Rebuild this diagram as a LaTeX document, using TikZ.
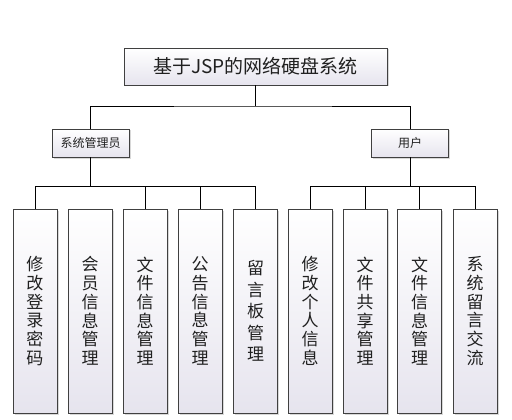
\documentclass[tikz,border=0pt]{standalone}
\usepackage{fontspec}
\newfontfamily\cjk{Noto Sans CJK SC}
\usetikzlibrary{shadows,calc}
\definecolor{boxline}{HTML}{404040}
\definecolor{boxbot}{HTML}{E6E4EE}
\definecolor{txt}{HTML}{202020}
\tikzset{
  box/.style={draw=boxline, line width=0.9pt, top color=white, bottom color=boxbot,
    drop shadow={shadow xshift=1.5pt, shadow yshift=-1.5pt, fill=black!25, opacity=0.6},
    inner sep=0pt, text=txt, align=center},
  titlebox/.style={box, minimum width=263pt, minimum height=37pt, font=\cjk\fontsize{19}{22}\selectfont},
  rolebox/.style={box, minimum width=77pt, minimum height=28pt, font=\cjk\fontsize{12}{14}\selectfont},
  leafbox/.style={box, minimum width=44pt, minimum height=204pt, font=\cjk\fontsize{17}{18.7}\selectfont},
  leafboxfive/.style={box, minimum width=44pt, minimum height=204pt, font=\cjk\fontsize{17}{21.6}\selectfont},
  wire/.style={draw=black, line width=0.9pt}
}
\begin{document}
\begin{tikzpicture}[x=1pt,y=-1pt]
\useasboundingbox (0,0) rectangle (512,420);
\fill[white] (0,0) rectangle (512,420);

\node[titlebox] (t) at (255.5,66.5) {基于JSP的网络硬盘系统};
\node[rolebox] (a) at (90.5,143) {系统管理员};
\node[rolebox] (u) at (410,143) {用户};

\node[leafbox] (c1) at (35,311) {修\\改\\登\\录\\密\\码};
\node[leafbox] (c2) at (90,311) {会\\员\\信\\息\\管\\理};
\node[leafbox] (c3) at (145,311) {文\\件\\信\\息\\管\\理};
\node[leafbox] (c4) at (200,311) {公\\告\\信\\息\\管\\理};
\node[leafboxfive] (c5) at (255.5,311) {留\\言\\板\\管\\理};
\node[leafbox] (c6) at (310,311) {修\\改\\个\\人\\信\\息};
\node[leafbox] (c7) at (365,311) {文\\件\\共\\享\\管\\理};
\node[leafbox] (c8) at (419.5,311) {文\\件\\信\\息\\管\\理};
\node[leafbox] (c9) at (475,311) {系\\统\\留\\言\\交\\流};

\coordinate (tb) at (255.5,106);
\coordinate (lb) at (90.5,186);
\coordinate (rb) at (410,186);

\draw[wire] (t.south) -- (tb);
\draw[wire] (a.north) |- (tb) -| (u.north);

\draw[wire] (a.south) -- (lb);
\draw[wire] (c1.north) |- (c5.north |- lb) -- (c5.north);
\draw[wire] (c3.north) -- (c3.north |- lb);
\draw[wire] (c4.north) -- (c4.north |- lb);

\draw[wire] (u.south) -- (rb);
\draw[wire] (c6.north) |- (c9.north |- rb) -- (c9.north);
\draw[wire] (c7.north) -- (c7.north |- rb);
\draw[wire] (c8.north) -- (c8.north |- rb);
\end{tikzpicture}
\end{document}
